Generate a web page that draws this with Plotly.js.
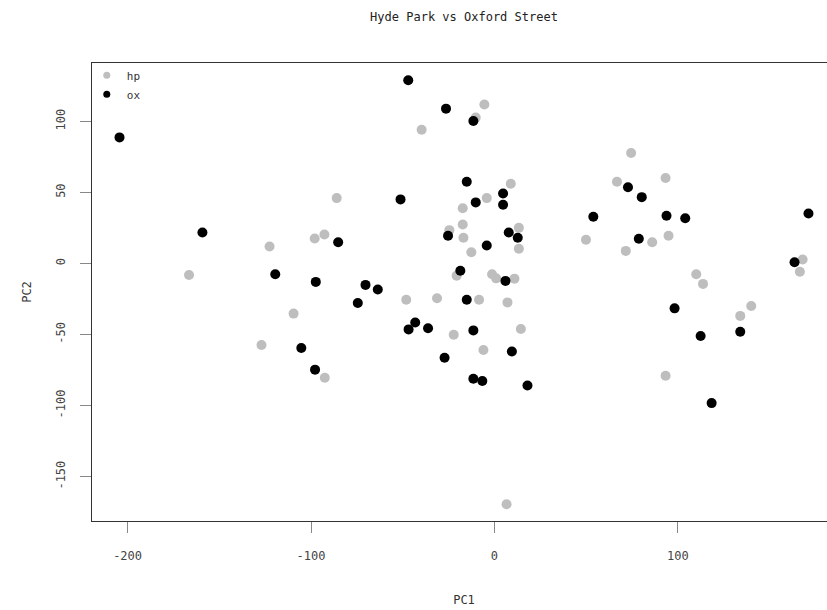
<!DOCTYPE html>
<html>
<head>
<meta charset="utf-8">
<script src="https://cdn.plot.ly/plotly-3.0.1.min.js"></script>
<style>
html, body { margin: 0; padding: 0; overflow: hidden; background: #fff; }
#chart { width: 837px; height: 610px; }
</style>
</head>
<body>
<div id="chart"></div>
<script>
// Hyde Park (hp) PCA scores
const hpPC1 = [-166.5, -122.6, -98, -92.7, -109.5, -127, -92.5, -5.5, -10.2, -39.7,
  8.9, -86, -4.2, -17.3, -17.3, -24.6, -16.9, 13.3, 13.3, -12.6,
  -20.6, -1.3, 0.9, 10.9, -48.1, -31.3, -8.4, 7.1, -22.2, 14.4,
  -6, 6.6, 74.5, 66.8, 93.3, 49.9, 86, 94.9, 71.6, 168,
  166.5, 110, 113.7, 140, 134, 93.3];
const hpPC2 = [-8, 12, 17.6, 20.4, -35.2, -57.3, -80.3, 111.8, 102.6, 94.1,
  56.1, 46, 46, 38.9, 27.5, 23.5, 18.1, 25.1, 10.4, 8,
  -8.5, -7.5, -10.4, -10.6, -25.4, -24.4, -25.4, -27.3, -50, -46,
  -60.8, -169.2, 77.7, 57.5, 60.1, 16.7, 15, 19.5, 8.9, 2.8,
  -5.8, -7.5, -14.3, -29.8, -36.8, -78.9];

// Oxford Street (ox) PCA scores
const oxPC1 = [-204.4, -159.2, -119.5, -97.4, -105.3, -97.8, -47, -26.4, -11.5, -15.1,
  4.7, 4.7, -51.2, -10.2, -25.3, 7.8, 12.7, -4.2, -85.2, -18.6,
  6, -70.3, -63.6, -74.5, -15.1, -43.2, -46.8, -36.2, -11.5, 9.5,
  -27.2, -11.5, -6.6, 18, 72.8, 80.3, 53.9, 93.8, 104, 171.2,
  78.7, 163.6, 98.2, 112.4, 134, 118.4];
const oxPC2 = [88.7, 21.8, -7.5, -12.9, -59.4, -74.6, 128.9, 108.9, 100.2, 57.5,
  49.3, 41.3, 45.1, 43, 19.5, 21.8, 18.1, 12.7, 15, -5.1,
  -12.2, -15, -18.3, -27.7, -25.4, -41.5, -46.3, -45.5, -47, -61.8,
  -66.2, -81, -82.6, -85.7, 53.7, 46.7, 32.9, 33.6, 31.9, 35.2,
  17.4, 0.9, -31.5, -50.9, -47.9, -98.1];

const groupNames = ["hp", "ox"];
const groupColors = ["#BEBEBE", "#000000"];

const xTicks = [-200, -100, 0, 100];
const yTicks = [-150, -100, -50, 0, 50, 100];

const FONT = "DejaVu Sans Mono, Liberation Mono, monospace";

const traces = [
  {x: hpPC1, y: hpPC2, type: "scatter", mode: "markers", name: groupNames[0],
   showlegend: false, marker: {color: groupColors[0], size: 10, line: {width: 0}}},
  {x: oxPC1, y: oxPC2, type: "scatter", mode: "markers", name: groupNames[1],
   showlegend: false, marker: {color: groupColors[1], size: 10, line: {width: 0}}},
  // legend keys
  {x: [null], y: [null], type: "scatter", mode: "markers", name: groupNames[0],
   marker: {color: groupColors[0], size: 7}},
  {x: [null], y: [null], type: "scatter", mode: "markers", name: groupNames[1],
   marker: {color: groupColors[1], size: 7}}
];

const axisCommon = {
  showgrid: false, zeroline: false,
  showline: true, mirror: true, linecolor: "#333", linewidth: 1,
  ticks: "outside", ticklen: 11, tickcolor: "#888", tickwidth: 1,
  tickfont: {family: FONT, size: 12, color: "#444"},
  tickmode: "array"
};

const layout = {
  width: 837, height: 610,
  margin: {l: 92, r: 1, t: 63, b: 89},
  paper_bgcolor: "#fff", plot_bgcolor: "#fff",
  font: {family: FONT, color: "#222"},
  title: {text: "Hyde Park vs Oxford Street", font: {family: FONT, size: 12, color: "#222"},
          x: 0.5, xref: "paper", xanchor: "center", y: 1 - 17/610, yanchor: "middle"},
  xaxis: Object.assign({}, axisCommon, {
    range: [-219.4, 186.2], tickvals: xTicks, ticktext: xTicks.map(String),
    ticklabelstandoff: 13,
    title: {text: "PC1", font: {family: FONT, size: 12, color: "#333"}, standoff: 33}
  }),
  yaxis: Object.assign({}, axisCommon, {
    range: [-181, 141], tickvals: yTicks, ticktext: yTicks.map(String),
    tickangle: -90, ticklabelstandoff: 10,
    title: {text: "PC2", font: {family: FONT, size: 12, color: "#333"}, standoff: 20}
  }),
  legend: {x: -0.007, y: 1.005, xanchor: "left", yanchor: "top",
           bgcolor: "rgba(0,0,0,0)", borderwidth: 0,
           font: {family: FONT, size: 11, color: "#333"}, tracegroupgap: 0,
           itemsizing: "trace"}
};

Plotly.newPlot("chart", traces, layout, {displayModeBar: false, staticPlot: true});
</script>
</body>
</html>
